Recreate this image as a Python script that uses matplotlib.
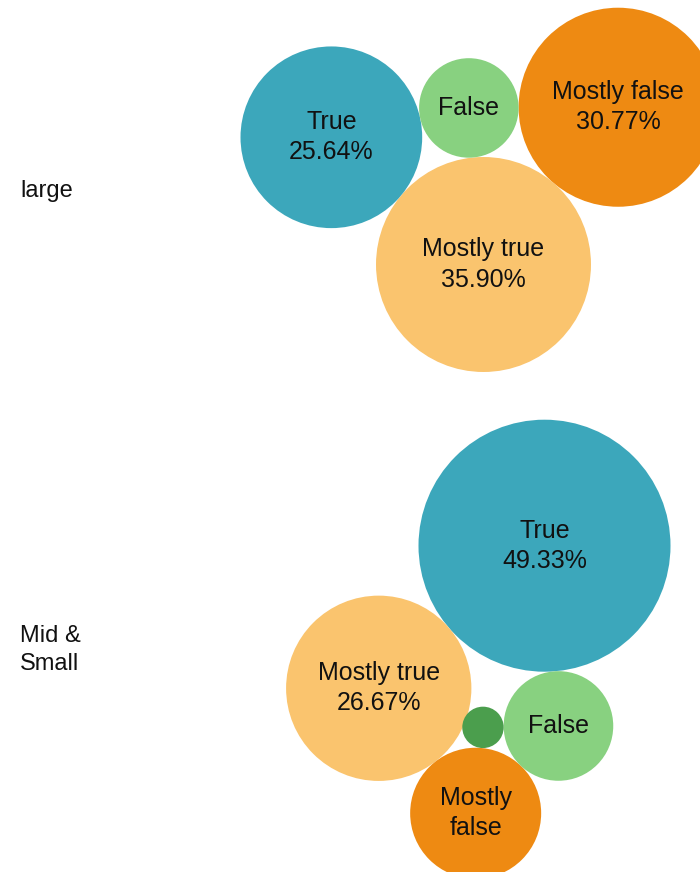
import numpy as np
import matplotlib
matplotlib.use('Agg')
import matplotlib.pyplot as plt
from matplotlib.patches import Circle

# share of statements per rating, in percent
large_names = ['Mostly true', 'Mostly false', 'True', 'False']
large_pct = [35.90, 30.77, 25.64, 7.69]

mid_names = ['True', 'Mostly true', 'Mostly false', 'False', 'Pants on fire']
mid_pct = [49.33, 26.67, 13.33, 9.33, 1.33]

group_names = ['large', 'Mid &\nSmall']

colors = {'True': '#3ca7bb', 'Mostly true': '#fac46e', 'Mostly false': '#ee8a12',
          'False': '#88d180', 'Pants on fire': '#4b9e4d'}

K = 17.94  # px radius per sqrt(percent)


def tangent_both(c1, r1, c2, r2, r, side):
    # centre of a circle of radius r touching circles 1 and 2
    d = np.hypot(*(c2 - c1))
    a = ((r1 + r)**2 - (r2 + r)**2 + d**2) / (2*d)
    h = np.sqrt(max((r1 + r)**2 - a**2, 0))
    u = (c2 - c1) / d
    n = np.array([-u[1], u[0]])
    return c1 + a*u + side*h*n


# packing steps: anchor circle, then circles touching one (at an angle) or two others
large_order = [0, 2, 3, 1]
large_steps = {0: ('anchor', 483.5, 264.5), 2: ('polar', 0, -140.1),
               3: ('between', 0, 2, 1), 1: ('between', 0, 3, 1)}

mid_order = [0, 1, 2, 3, 4]
mid_steps = {0: ('anchor', 544.5, 545.7), 1: ('polar', 0, 139.3),
             2: ('polar', 1, 52.2), 3: ('between', 0, 2, -1), 4: ('between', 2, 3, -1)}


def place(pct, order, steps):
    rad = [K*np.sqrt(p) for p in pct]
    cen = [None]*len(pct)
    for i in order:
        s = steps[i]
        if s[0] == 'anchor':
            cen[i] = np.array(s[1:], float)
        elif s[0] == 'polar':
            j, ang = s[1], np.radians(s[2])
            cen[i] = cen[j] + (rad[j] + rad[i])*np.array([np.cos(ang), np.sin(ang)])
        else:
            j, k, side = s[1:]
            cen[i] = tangent_both(cen[j], rad[j], cen[k], rad[k], rad[i], side)
    return cen, rad


plt.rcParams['font.family'] = ['Liberation Sans', 'DejaVu Sans']

fig = plt.figure(figsize=(7, 8.72), dpi=100)
ax = fig.add_axes([0, 0, 1, 1])
ax.set_xlim(0, 700)
ax.set_ylim(872, 0)
ax.axis('off')

groups = [(large_names, large_pct, large_order, large_steps),
          (mid_names, mid_pct, mid_order, mid_steps)]

for gname, (names, pct, order, steps) in zip(group_names, groups):
    cen, rad = place(pct, order, steps)
    for name, p, c, r in zip(names, pct, cen, rad):
        ax.add_patch(Circle(c, r, facecolor=colors[name], edgecolor='none'))
        if r < 30:
            continue
        if p >= 20:
            txt = '%s\n%.2f%%' % (name, p)
        elif len(name)*11 > 2*r:
            txt = name.replace(' ', '\n')
        else:
            txt = name
        ax.text(c[0], c[1], txt, ha='center', va='center', ma='center',
                fontsize=18, color='#111111', linespacing=1.32)
    top = min(c[1] - r for c, r in zip(cen, rad))
    bot = max(c[1] + r for c, r in zip(cen, rad))
    ax.text(20, (top + bot)/2 + 1, gname, ha='left', va='center', fontsize=17,
            color='#111111', linespacing=1.32)

fig.savefig('out.png', dpi=100)
